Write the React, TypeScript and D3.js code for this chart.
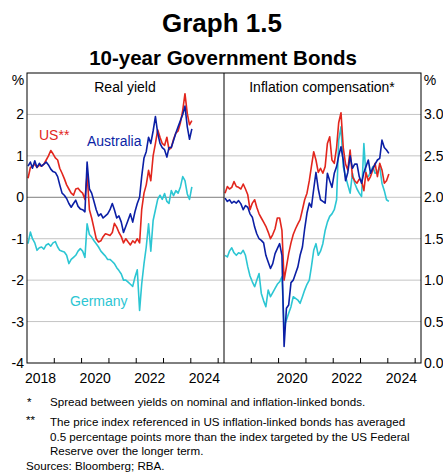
import React from 'react';
import * as d3 from 'd3';

// Monthly observations, Jan 2018 – Jan 2024
const startYear = 2018;

// Real yield (%)
const usReal = [
  0.46, 0.72, 0.75, 0.8, 0.72, 0.78, 0.75, 0.8, 0.9, 1.0, 1.13, 1.05,
  0.95, 0.9, 0.7, 0.58, 0.45, 0.3, 0.2, 0.1, 0.05, 0.2, 0.22, 0.15,
  0.1, -0.05, 0.55, -0.3, -0.5, -0.75, -1.0, -1.08, -1.05, -0.95, -0.88, -0.9,
  -0.92, -0.85, -0.63, -0.72, -0.85, -0.95, -1.1, -1.0, -1.08, -1.15, -1.05, -1.1,
  -1.0, -1.1, -0.3, 0.1, 0.3, 0.65, 0.4, 1.0, 1.3, 1.63, 1.45, 1.3,
  1.25, 1.45, 1.15, 1.2, 1.4, 1.55, 1.6, 1.8, 2.1, 2.5, 2.02, 1.75,
  1.85,
];
const ausReal = [
  0.75, 0.85, 0.7, 0.88, 0.72, 0.82, 0.75, 0.8, 0.85, 0.78, 0.68, 0.62,
  0.6, 0.5, 0.3, 0.1, 0.05, -0.03, -0.15, -0.24, -0.15, -0.07, -0.22, -0.28,
  -0.3, -0.35, 0.85, 0.2, 0.1, -0.1, -0.3, -0.45, -0.4, -0.5, -0.45, -0.4,
  -0.3, -0.15, -0.3, -0.5, -0.45, -0.6, -0.85, -0.7, -0.55, -0.4, -0.6, -0.35,
  -0.15, 0.0, 0.5, 0.95, 1.1, 1.45, 1.3, 1.6, 1.95, 1.55, 1.3, 1.2,
  1.15, 0.97, 1.2, 1.2, 1.37, 1.55, 1.7, 1.85, 2.0, 2.2, 1.7, 1.4,
  1.65,
];
const gerReal = [
  -1.12, -0.84, -1.0, -1.1, -1.28, -1.22, -1.2, -1.25, -1.15, -1.12, -1.18, -1.1,
  -1.07, -1.2, -1.28, -1.3, -1.32, -1.4, -1.6, -1.5, -1.45, -1.4, -1.3, -1.24,
  -1.3, -1.45, -0.64, -0.9, -0.96, -1.05, -1.12, -1.2, -1.3, -1.36, -1.42, -1.5,
  -1.5, -1.55, -1.6, -1.7, -1.77, -1.85, -2.0, -2.0, -2.05, -2.1, -2.15, -1.93,
  -1.75, -2.73, -2.1, -1.6, -1.2, -0.64, -1.3, -0.56, -0.3, -0.05, 0.05, -0.05,
  0.09, -0.1, -0.15, 0.16, 0.04, 0.16, 0.1, 0.25, 0.5, 0.4, 0.08, -0.05,
  0.25,
];

// Inflation compensation (%)
const usInfl = [
  2.05, 2.13, 2.1, 2.12, 2.19, 2.13, 2.12, 2.1, 2.16, 2.1, 2.03, 1.85,
  1.93, 1.97, 1.88, 1.8, 1.75, 1.7, 1.65, 1.58, 1.5, 1.55, 1.62, 1.75,
  1.75, 1.6, 1.0, 1.16, 1.32, 1.45, 1.55, 1.62, 1.68, 1.73, 1.85, 1.97,
  2.05, 2.2, 2.37, 2.55, 2.45, 2.3, 2.35, 2.29, 2.37, 2.65, 2.73, 2.45,
  2.41, 2.6, 2.9, 3.02, 2.6, 2.4, 2.33, 2.57, 2.25, 2.2, 2.17, 2.22,
  2.2, 2.08, 2.3, 2.2, 2.25, 2.33, 2.41, 2.25, 2.41, 2.33, 2.17, 2.2,
  2.28,
];
const ausInfl = [
  1.99, 1.95, 1.97, 1.93, 1.95, 1.93, 1.96, 1.92, 1.85, 1.9, 1.88, 1.8,
  1.76, 1.64, 1.56, 1.5, 1.48, 1.45, 1.3, 1.22, 1.14, 1.2, 1.32, 1.38,
  1.44, 1.3, 0.2, 0.66, 0.7, 0.97, 1.0, 1.08, 1.16, 1.3, 1.4, 1.62,
  1.81, 1.93, 1.88, 2.1, 2.3, 2.1, 1.97, 1.95, 1.93, 2.29, 2.2, 2.12,
  2.29, 2.37, 2.5, 2.61, 2.45, 2.2, 2.3, 2.5, 2.35, 2.4, 2.4, 2.25,
  2.17, 2.3, 2.37, 2.45, 2.29, 2.35, 2.4, 2.45, 2.47, 2.69, 2.6, 2.57,
  2.53,
];
const gerInfl = [
  1.3, 1.28, 1.35, 1.39, 1.33, 1.3, 1.33, 1.32, 1.36, 1.3, 1.16, 1.05,
  0.98, 0.92, 1.0, 1.08, 0.84, 0.75, 0.68, 0.88, 0.8, 0.85, 0.9, 0.95,
  0.98, 1.04, 0.44, 0.52, 0.6, 0.68, 0.8, 0.78, 0.76, 0.72, 0.8, 0.88,
  0.95, 1.0, 1.16, 1.36, 1.44, 1.3, 1.35, 1.44, 1.6, 1.7, 1.77, 1.8,
  1.85, 1.97, 2.69, 2.85, 2.37, 2.25, 2.15, 2.05, 2.29, 2.17, 2.1, 2.05,
  2.01, 2.65, 2.25, 2.25, 2.3, 2.37, 2.29, 2.3, 2.37, 2.17, 2.08, 1.97,
  1.95,
];

const leftTicks = [-4, -3, -2, -1, 0, 1, 2, 3];
const rightTicks = [0, 0.5, 1, 1.5, 2, 2.5, 3, 3.5];
const yearTicks = [2019, 2020, 2021, 2022, 2023, 2024, 2025];
const leftYearLabels = [2018, 2020, 2022, 2024];
const rightYearLabels = [2020, 2022, 2024];

const RED = '#e2261d';
const BLUE = '#0b1fa5';
const CYAN = '#2cc6d3';
const FONT = '"Liberation Sans", Arial, Helvetica, sans-serif';

export default function App() {
  const W = 443;
  const H = 474;
  const top = 73;
  const bottom = 363;
  const lx0 = 27;
  const mid = 224;
  const rx1 = 421;
  const d0 = new Date(2018, 0, 1);
  const d1 = new Date(2025, 2, 20);
  const xL = d3.scaleTime().domain([d0, d1]).range([lx0, mid]);
  const xR = d3.scaleTime().domain([d0, d1]).range([mid, rx1]);
  const yL = d3.scaleLinear().domain([-4, 3]).range([bottom, top]);
  const yR = d3.scaleLinear().domain([0, 3.5]).range([bottom, top]);
  const dateOf = (i: number) => new Date(startYear, i, 15);

  const mkLine = (x: any, y: any) =>
    d3
      .line<number>()
      .x((_, i) => x(dateOf(i)))
      .y((v) => y(v));
  const lineL = mkLine(xL, yL);
  const lineR = mkLine(xR, yR);

  const leftSeries = [
    { data: gerReal, color: CYAN },
    { data: usReal, color: RED },
    { data: ausReal, color: BLUE },
  ];
  const rightSeries = [
    { data: gerInfl, color: CYAN },
    { data: usInfl, color: RED },
    { data: ausInfl, color: BLUE },
  ];

  return (
    <svg
      width={W}
      height={H}
      style={{ position: 'absolute', left: 0, top: 0, background: '#fff', fontFamily: FONT }}
    >
      <rect x={0} y={0} width={W} height={H} fill="#fff" />
      <text x={222} y={32} textAnchor="middle" fontSize={26} fontWeight="bold" fill="#000">
        Graph 1.5
      </text>
      <text x={223} y={65} textAnchor="middle" fontSize={20.5} fontWeight="bold" fill="#000">
        10-year Government Bonds
      </text>

      {/* gridlines */}
      {leftTicks
        .filter((t) => t > -4 && t < 3)
        .map((t) => (
          <line
            key={'gl' + t}
            x1={lx0}
            x2={mid}
            y1={yL(t)}
            y2={yL(t)}
            stroke={t === 0 ? '#7d7d7d' : '#c4c4c4'}
            strokeWidth={1}
          />
        ))}
      {rightTicks
        .filter((t) => t > 0 && t < 3.5)
        .map((t) => (
          <line key={'gr' + t} x1={mid} x2={rx1} y1={yR(t)} y2={yR(t)} stroke="#c4c4c4" strokeWidth={1} />
        ))}

      {/* series */}
      <g>
        {leftSeries.map((s, k) => (
          <path key={'l' + k} d={lineL(s.data) || ''} fill="none" stroke={s.color} strokeWidth={1.6} strokeLinejoin="round" />
        ))}
        {rightSeries.map((s, k) => (
          <path key={'r' + k} d={lineR(s.data) || ''} fill="none" stroke={s.color} strokeWidth={1.6} strokeLinejoin="round" />
        ))}
      </g>

      {/* frame */}
      <rect x={lx0} y={top} width={rx1 - lx0} height={bottom - top} fill="none" stroke="#000" strokeWidth={1} />
      <line x1={mid} x2={mid} y1={top} y2={bottom} stroke="#000" strokeWidth={1} />

      {/* x ticks */}
      {yearTicks.map((yr) => (
        <line key={'xtl' + yr} x1={xL(new Date(yr, 0, 1))} x2={xL(new Date(yr, 0, 1))} y1={bottom} y2={bottom - 5} stroke="#000" />
      ))}
      {yearTicks.map((yr) => (
        <line key={'xtr' + yr} x1={xR(new Date(yr, 0, 1))} x2={xR(new Date(yr, 0, 1))} y1={bottom} y2={bottom - 5} stroke="#000" />
      ))}
      {leftYearLabels.map((yr) => (
        <text key={'xll' + yr} x={xL(new Date(yr, 6, 1))} y={383} textAnchor="middle" fontSize={14} fill="#000">
          {yr}
        </text>
      ))}
      {rightYearLabels.map((yr) => (
        <text key={'xlr' + yr} x={xR(new Date(yr, 6, 1))} y={383} textAnchor="middle" fontSize={14} fill="#000">
          {yr}
        </text>
      ))}

      {/* y labels */}
      {leftTicks
        .filter((t) => t < 3)
        .map((t) => (
          <text key={'yl' + t} x={24} y={yL(t) + 5} textAnchor="end" fontSize={14} fill="#000">
            {t}
          </text>
        ))}
      {rightTicks
        .filter((t) => t < 3.5)
        .map((t) => (
          <text key={'yr' + t} x={424} y={yR(t) + 5} textAnchor="start" fontSize={14} fill="#000">
            {t.toFixed(1)}
          </text>
        ))}
      <text x={18} y={85} textAnchor="middle" fontSize={14} fill="#000">%</text>
      <text x={430} y={85} textAnchor="middle" fontSize={14} fill="#000">%</text>

      {/* panel titles */}
      <text x={125} y={92} textAnchor="middle" fontSize={14} fill="#000">Real yield</text>
      <text x={322} y={92} textAnchor="middle" fontSize={14} fill="#000">Inflation compensation*</text>

      {/* series labels */}
      <text x={39} y={140} fontSize={14} fill={RED}>US**</text>
      <text x={87} y={146} fontSize={14} fill={BLUE}>Australia</text>
      <text x={70} y={306} fontSize={14} fill={CYAN}>Germany</text>

      {/* footnotes */}
      <g fontSize={11.6} fill="#000">
        <text x={27} y={406}>*</text>
        <text x={50} y={406}>Spread between yields on nominal and inflation-linked bonds.</text>
        <text x={26} y={424}>**</text>
        <text x={50} y={426}>The price index referenced in US inflation-linked bonds has averaged</text>
        <text x={50} y={441}>0.5 percentage points more than the index targeted by the US Federal</text>
        <text x={50} y={455}>Reserve over the longer term.</text>
        <text x={26} y={470}>Sources: Bloomberg; RBA.</text>
      </g>
    </svg>
  );
}
